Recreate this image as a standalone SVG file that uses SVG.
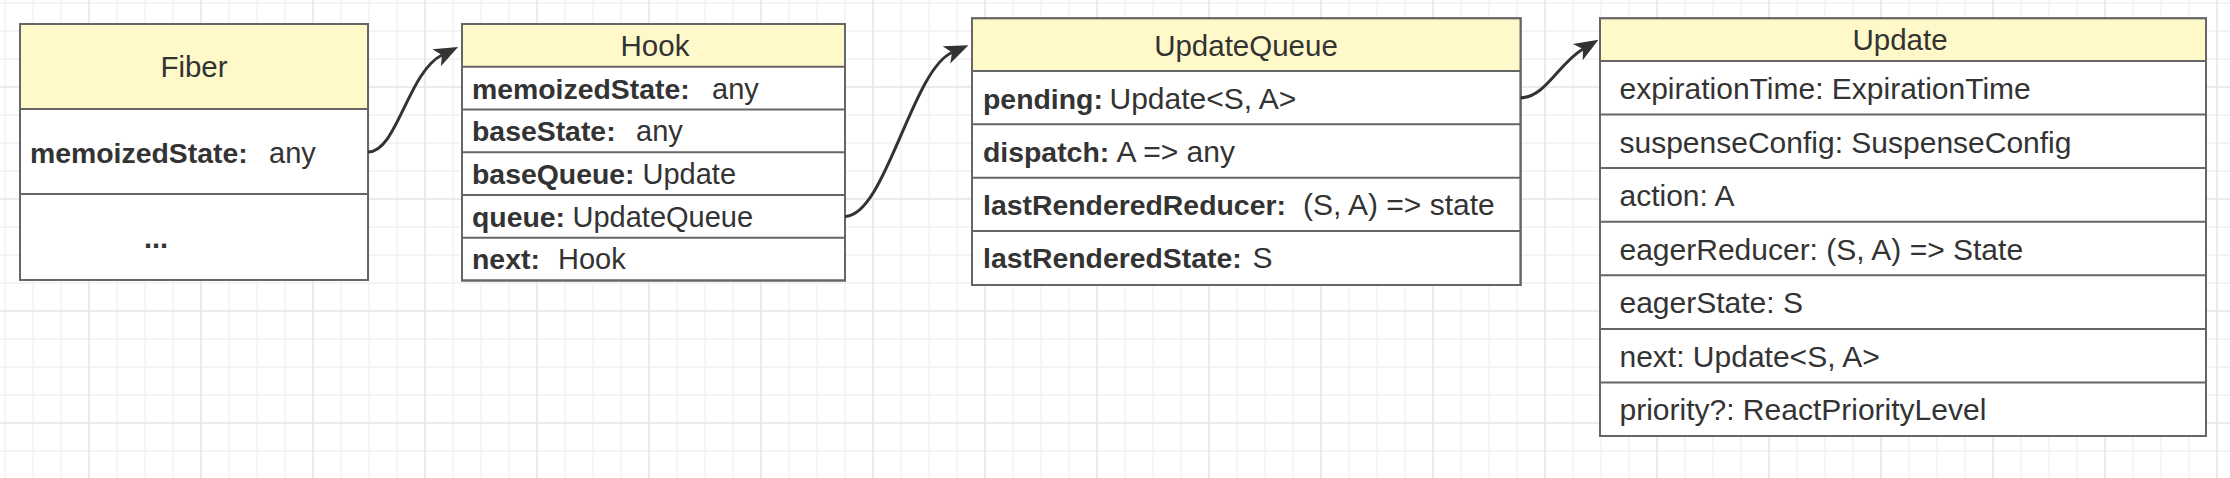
<svg xmlns="http://www.w3.org/2000/svg" width="2230" height="478" viewBox="0 0 2230 478">
  <defs>
    <pattern id="grid" patternUnits="userSpaceOnUse" x="19" y="17" width="112" height="112">
      <rect width="112" height="112" fill="#ffffff"/>
      <path d="M14,0V112M42,0V112M98,0V112M0,14H112M0,42H112M0,98H112" stroke="#f1f1f1" stroke-width="1.3" fill="none"/>
      <path d="M70,0V112M0,70H112" stroke="#e5e5e5" stroke-width="1.6" fill="none"/>
    </pattern>
    <marker id="arr" markerUnits="userSpaceOnUse" markerWidth="26" markerHeight="20" viewBox="0 0 26 20" refX="6" refY="10" orient="auto" overflow="visible">
      <path d="M24,10 L0,0.5 L6,10 L0,19.5 Z" fill="#333333"/>
    </marker>
    <style>
      .box { fill: #ffffff; stroke: #666666; stroke-width: 2; }
      .head { fill: #fff9c9; stroke: none; }
      .sep { stroke: #666666; stroke-width: 2; fill: none; }
      .title { font-family: "Liberation Sans", Arial, sans-serif; font-size: 29.5px; fill: #333333; text-anchor: middle; }
      .row { font-family: "Liberation Sans", Arial, sans-serif; font-size: 29px; fill: #333333; }
      .k { font-weight: bold; font-size: 28.4px; }
      .ur { font-family: "Liberation Sans", Arial, sans-serif; font-size: 30px; fill: #333333; }
      .conn { fill: none; stroke: #333333; stroke-width: 3; marker-end: url(#arr); }
    </style>
  </defs>

  <rect x="0" y="0" width="2230" height="478" fill="url(#grid)"/>

  <g id="fiber">
    <rect class="box" x="20" y="24" width="348" height="256"/>
    <rect class="head" x="21" y="25" width="346" height="84"/>
    <path class="sep" d="M20,109H368M20,194H368"/>
    <rect x="20" y="24" width="348" height="256" fill="none" stroke="#666666" stroke-width="2"/>
    <text class="title" x="194" y="77">Fiber</text>
    <text class="row" y="162.5"><tspan class="k" x="30">memoizedState:</tspan><tspan x="269">any</tspan></text>
    <text class="row" x="156" y="248" text-anchor="middle" font-weight="bold">...</text>
  </g>

  <g id="hook">
    <rect class="box" x="462" y="24" width="383" height="256.5"/>
    <rect class="head" x="463" y="25" width="381" height="41.75"/>
    <path class="sep" d="M462,66.75H845M462,109.5H845M462,152.25H845M462,195H845M462,237.75H845"/>
    <rect x="462" y="24" width="383" height="256.5" fill="none" stroke="#666666" stroke-width="2"/>
    <text class="title" x="655" y="55.5">Hook</text>
    <text class="row" y="98.5"><tspan class="k" x="472">memoizedState:</tspan><tspan x="712">any</tspan></text>
    <text class="row" y="141"><tspan class="k" x="472">baseState:</tspan><tspan x="636">any</tspan></text>
    <text class="row" y="184"><tspan class="k" x="472">baseQueue:</tspan><tspan x="642.5">Update</tspan></text>
    <text class="row" y="226.5"><tspan class="k" x="472">queue:</tspan><tspan x="572.5">UpdateQueue</tspan></text>
    <text class="row" y="269"><tspan class="k" x="472">next:</tspan><tspan x="558">Hook</tspan></text>
  </g>

  <g id="updateQueue">
    <rect class="box" x="972" y="18.3" width="548.6" height="266.7"/>
    <rect class="head" x="973" y="19.3" width="546.6" height="51.7"/>
    <path class="sep" d="M972,71H1520.6M972,124.3H1520.6M972,177.7H1520.6M972,231H1520.6"/>
    <rect x="972" y="18.3" width="548.6" height="266.7" fill="none" stroke="#666666" stroke-width="2"/>
    <text class="title" x="1246" y="56">UpdateQueue</text>
    <text class="ur" y="108.5"><tspan class="k" x="983">pending:</tspan><tspan x="1109.5">Update&lt;S, A&gt;</tspan></text>
    <text class="ur" y="161.7"><tspan class="k" x="983">dispatch:</tspan><tspan x="1116.5">A =&gt; any</tspan></text>
    <text class="ur" y="214.5"><tspan class="k" x="983">lastRenderedReducer:</tspan><tspan x="1303">(S, A) =&gt; state</tspan></text>
    <text class="ur" y="268.3"><tspan class="k" x="983">lastRenderedState:</tspan><tspan x="1252.5">S</tspan></text>
  </g>

  <g id="update">
    <rect class="box" x="1600" y="18.3" width="606" height="417.7"/>
    <rect class="head" x="1601" y="19.3" width="604" height="41.7"/>
    <path class="sep" d="M1600,61H2206M1600,114.6H2206M1600,168.1H2206M1600,221.7H2206M1600,275.3H2206M1600,328.9H2206M1600,382.4H2206"/>
    <rect x="1600" y="18.3" width="606" height="417.7" fill="none" stroke="#666666" stroke-width="2"/>
    <text class="title" x="1900" y="50.2">Update</text>
    <text class="ur" x="1619.5" y="99">expirationTime: ExpirationTime</text>
    <text class="ur" x="1619.5" y="152.6">suspenseConfig: SuspenseConfig</text>
    <text class="ur" x="1619.5" y="206">action: A</text>
    <text class="ur" x="1619.5" y="259.6">eagerReducer: (S, A) =&gt; State</text>
    <text class="ur" x="1619.5" y="313">eagerState: S</text>
    <text class="ur" x="1619.5" y="366.6">next: Update&lt;S, A&gt;</text>
    <text class="ur" x="1619.5" y="420.2">priority?: ReactPriorityLevel</text>
  </g>

  <g id="connectors">
    <path class="conn" d="M368,152 C397,152 408,72 442,55"/>
    <path class="conn" d="M845,216.4 C885,216.4 912,70 952,52.5"/>
    <path class="conn" d="M1520.6,97.7 C1545,97.7 1558,64 1583,49"/>
  </g>
</svg>
